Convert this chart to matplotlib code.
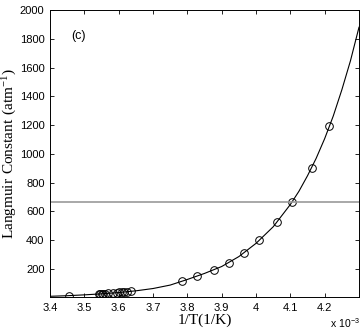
import numpy as np
import matplotlib
matplotlib.use("Agg")
import matplotlib.pyplot as plt

# measured points (1/T in units of 1e-3 1/K, Langmuir constant in 1/atm)
inv_t = [3.455, 3.543, 3.546, 3.550, 3.553, 3.560, 3.570, 3.584, 3.594,
         3.601, 3.609, 3.616, 3.625, 3.635,
         3.785, 3.829, 3.878, 3.920, 3.965, 4.010, 4.062, 4.104, 4.162, 4.214]
lang_c = [15, 26, 26, 27, 28, 29, 31, 33, 35,
          37, 38, 40, 42, 45,
          118, 153, 193, 242, 311, 400, 525, 664, 904, 1194]

# fitted curve
curve_x = [3.40, 3.45, 3.50, 3.55, 3.60, 3.65, 3.70, 3.75, 3.80, 3.85,
           3.90, 3.95, 4.00, 4.05, 4.10, 4.125, 4.15, 4.175, 4.20, 4.225,
           4.25, 4.275, 4.30]
curve_y = [10, 14, 20, 27, 36, 48, 64, 88, 127, 169,
           217, 286, 378, 493, 648, 740, 848, 968, 1106, 1263,
           1445, 1646, 1880]

ref_level = 668

xticks = [3.4, 3.5, 3.6, 3.7, 3.8, 3.9, 4.0, 4.1, 4.2]
xtick_labels = ["3.4", "3.5", "3.6", "3.7", "3.8", "3.9", "4", "4.1", "4.2"]
yticks = [200, 400, 600, 800, 1000, 1200, 1400, 1600, 1800, 2000]

sans = "Liberation Sans"
serif = "Liberation Serif"

fig = plt.figure(figsize=(3.63, 3.32), dpi=100)
ax = fig.add_axes([0.138, 0.1054, 0.851, 0.8646])

ax.plot(curve_x, curve_y, color="black", lw=0.8)
ax.plot(inv_t, lang_c, linestyle="none", marker="o", ms=5.5,
        mfc="none", mec="black", mew=0.7)
ax.axhline(ref_level, color="#999999", lw=1.2)

ax.set_xlim(3.4, 4.3)
ax.set_ylim(5, 2000)
ax.set_xticks(xticks)
ax.set_xticklabels(xtick_labels)
ax.set_yticks(yticks)

ax.tick_params(direction="in", length=3, width=0.6, top=True, right=True,
               labelsize=8, pad=4)
for lab in ax.get_xticklabels() + ax.get_yticklabels():
    lab.set_family(sans)
for sp in ax.spines.values():
    sp.set_linewidth(0.7)

ax.set_xlabel("1/T(1/K)", family=serif, fontsize=11, va="center")
ax.xaxis.set_label_coords(0.5, -0.082)
ax.set_ylabel(r"$\mathregular{Langmuir\ Constant\ (atm^{-1})}$", family=serif,
              fontsize=11, va="center")
ax.yaxis.set_label_coords(-0.13, 0.5)

ax.text(0.07, 0.93, "(c)", transform=ax.transAxes, family=sans, fontsize=9,
        va="top")
fig.text(0.91, 0.012, r"$\mathregular{x\ 10^{-3}}$", family=sans, fontsize=7.5)

fig.savefig("out.png", dpi=100)
